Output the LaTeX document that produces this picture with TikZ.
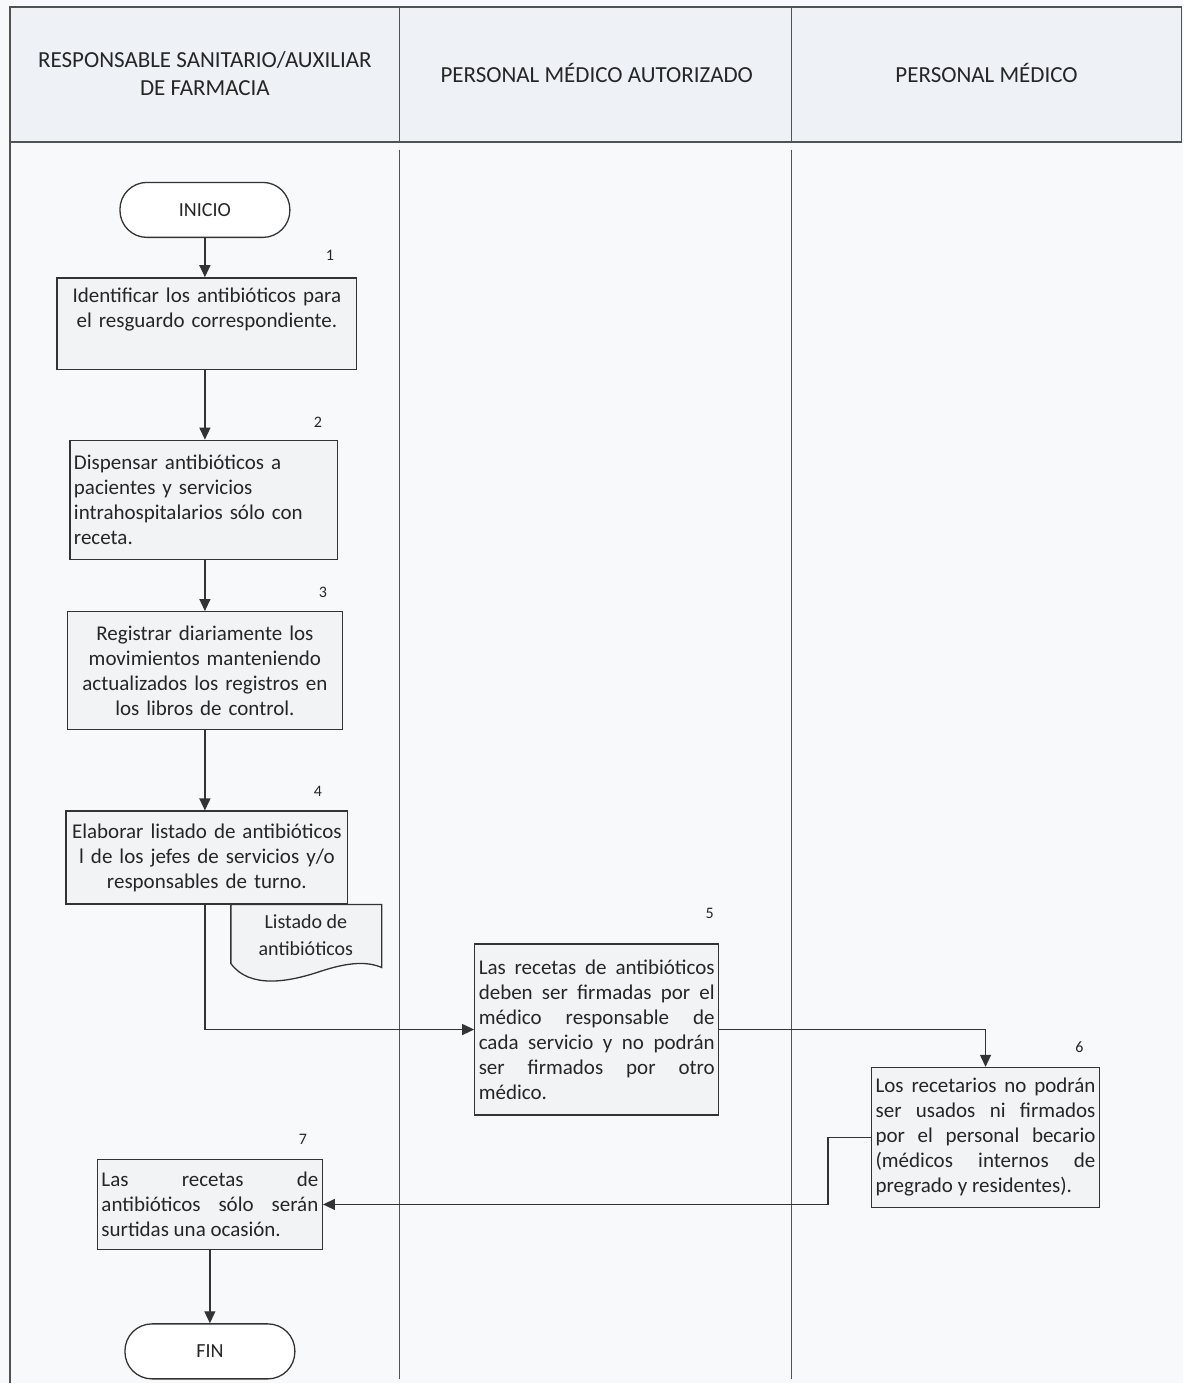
\documentclass[tikz,border=0pt]{standalone}
\usepackage{fontspec}
\setmainfont{Carlito}
\usetikzlibrary{arrows.meta}
\definecolor{ink}{HTML}{333333}
\definecolor{textink}{HTML}{262626}
\definecolor{paper}{HTML}{F7F9FB}
\definecolor{headfill}{HTML}{EEF1F5}
\definecolor{boxfill}{HTML}{F2F3F4}
\begin{document}
\begin{tikzpicture}[x=1pt,y=-1pt,
  lane/.style={draw=ink!85, line width=1.3pt},
  stepbox/.style={draw=ink, fill=boxfill, line width=1.3pt, inner sep=4pt,
    font=\fontsize{21}{25}\selectfont, text=textink},
  terminal/.style={draw=ink, fill=white, line width=1.3pt, rounded corners=27pt,
    minimum width=170pt, minimum height=55pt, font=\fontsize{20}{24}\selectfont, text=textink},
  stepno/.style={font=\fontsize{16}{18}\selectfont, text=textink},
  lanetitle/.style={font=\fontsize{23}{28}\selectfont, text=textink, align=center},
  flow/.style={draw=ink, line width=1.3pt, -{Triangle[length=12pt,width=11pt]}},
  link/.style={draw=ink, line width=1.3pt}
]
% page
\path[fill=paper] (0,0) rectangle (1184,1384);

% swimlane header
\path[fill=headfill] (10,7) rectangle (1182,142);
\draw[lane] (10,7) rectangle (1182,142);
\draw[lane] (400,7) -- (400,142);
\draw[lane] (792,7) -- (792,142);
\node[lanetitle] (laneA) at (205,74) {RESPONSABLE SANITARIO/AUXILIAR\\DE FARMACIA};
\node[lanetitle] (laneB) at (597,73) {PERSONAL MÉDICO AUTORIZADO};
\node[lanetitle] (laneC) at (987,73) {PERSONAL MÉDICO};

% swimlane bodies
\draw[lane] (10,142) -- (10,1384);
\draw[lane] (400,150) -- (400,1380);
\draw[lane] (792,150) -- (792,1380);

% flow nodes
\node[terminal] (inicio) at (205,210) {INICIO};

\node[stepbox, text width=292pt, minimum height=92pt, align=center] (s1) at (207,324)
  {Identificar los antibióticos  para\\ el resguardo correspondiente.\\ \strut};
\node[stepno] (k1) at (330,255) {1};

\node[stepbox, text width=260pt, minimum height=119pt, align=left] (s2) at (204,500)
  {Dispensar antibióticos a\\ pacientes y servicios\\ intrahospitalarios sólo con\\ receta.};
\node[stepno] (k2) at (318,423) {2};

\node[stepbox, text width=267pt, minimum height=118pt, align=center] (s3) at (205,671)
  {Registrar diariamente los\\ movimientos manteniendo\\ actualizados los registros  en\\ los libros  de control.};
\node[stepno] (k3) at (323,593) {3};

% document symbol under step 4
\draw[link, fill=boxfill] (231,905) -- (231,964)
  .. controls (250,990) and (290,982) .. (320,972)
  .. controls (350,962) and (368,962) .. (382,968) -- (382,905) -- cycle;
\node[font=\fontsize{20}{27}\selectfont, text=textink, align=center] (doc) at (306,936)
  {Listado de\\ antibióticos};

\node[stepbox, text width=274pt, minimum height=93pt, align=center] (s4) at (207,858)
  {Elaborar listado de antibióticos\\ l de los jefes de servicios y/o\\ responsables de turno.};
\node[stepno] (k4) at (318,792) {4};

\node[stepbox, text width=236pt, minimum height=171pt, align=justify] (s5) at (597,1030)
  {Las recetas de antibióticos\linebreak deben ser  firmadas por el\linebreak médico responsable de\linebreak cada servicio y no podrán\linebreak ser firmados por otro\linebreak médico.};
\node[stepno] (k5) at (710,914) {5};

\node[stepbox, text width=220pt, minimum height=140pt, align=justify] (s6) at (986,1138)
  {Los recetarios no podrán\linebreak ser usados ni firmados\linebreak por el personal becario\linebreak (médicos internos de\linebreak pregrado y residentes).};
\node[stepno] (k6) at (1080,1048) {6};

\node[stepbox, text width=217pt, minimum height=90pt, align=justify] (s7) at (210,1205)
  {Las recetas de\linebreak antibióticos sólo serán\linebreak surtidas una ocasión.};
\node[stepno] (k7) at (303,1140) {7};

\node[terminal] (fin) at (210,1352) {FIN};

% connectors
\draw[flow] (inicio.south) -- (inicio.south |- s1.north);
\draw[flow] (inicio.south |- s1.south) -- (inicio.south |- s2.north);
\draw[flow] (inicio.south |- s2.south) -- (inicio.south |- s3.north);
\draw[flow] (inicio.south |- s3.south) -- (inicio.south |- s4.north);
\draw[flow] (inicio.south |- s4.south) |- (s5.west);
\draw[flow] (s5.east) -| (s6.north);
\draw[flow] (s6.west) -- ++(-43,0) |- (s7.east);
\draw[flow] (s7.south) -- (fin.north);
\end{tikzpicture}
\end{document}
